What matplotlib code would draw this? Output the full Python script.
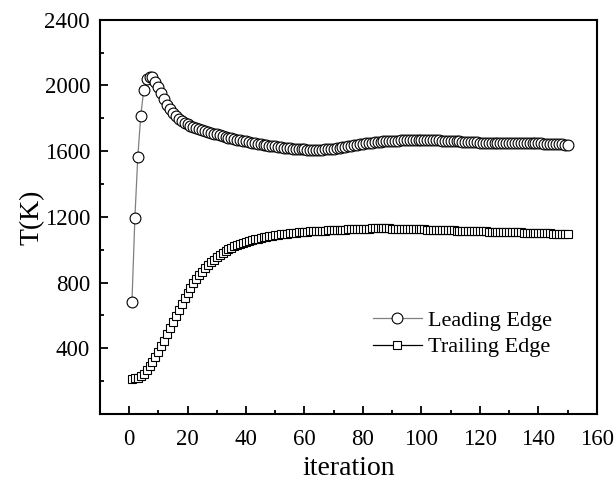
import matplotlib
matplotlib.use("Agg")
import matplotlib.pyplot as plt
from matplotlib.ticker import MultipleLocator, FixedLocator

plt.rcParams["font.family"] = ["Liberation Serif", "DejaVu Serif"]
plt.rcParams["mathtext.fontset"] = "stix"

iterations = list(range(1, 151))

leading_edge = [
    682, 1194, 1566, 1813, 1970, 2037, 2054, 2050, 2024, 1990,
    1954, 1915, 1884, 1855, 1833, 1814, 1798, 1784, 1773, 1763,
    1755, 1748, 1741, 1735, 1729, 1723, 1717, 1712, 1707, 1702,
    1697, 1692, 1687, 1683, 1678, 1674, 1670, 1666, 1662, 1659,
    1655, 1652, 1649, 1646, 1643, 1640, 1637, 1634, 1631, 1629,
    1626, 1624, 1622, 1620, 1618, 1616, 1614, 1613, 1612, 1611,
    1610, 1609, 1609, 1609, 1609, 1610, 1611, 1612, 1614, 1616,
    1618, 1620, 1623, 1626, 1629, 1632, 1635, 1638, 1641, 1644,
    1647, 1649, 1651, 1653, 1655, 1657, 1659, 1660, 1662, 1663,
    1664, 1665, 1666, 1667, 1668, 1668, 1669, 1669, 1669, 1669,
    1669, 1669, 1668, 1668, 1667, 1666, 1665, 1664, 1663, 1662,
    1661, 1660, 1659, 1658, 1657, 1656, 1655, 1654, 1653, 1652,
    1651, 1651, 1650, 1650, 1650, 1649, 1649, 1649, 1649, 1649,
    1649, 1649, 1649, 1649, 1649, 1649, 1648, 1648, 1648, 1647,
    1647, 1646, 1646, 1645, 1644, 1643, 1642, 1641, 1640, 1639,
]

trailing_edge = [
    215, 216, 220, 230, 245, 265, 290, 316, 345, 377,
    411, 447, 484, 522, 560, 598, 634, 670, 704, 737,
    767, 795, 821, 845, 867, 888, 907, 924, 940, 955,
    968, 980, 992, 1002, 1012, 1021, 1029, 1036, 1043, 1049,
    1054, 1059, 1064, 1068, 1072, 1076, 1079, 1082, 1085, 1088,
    1090, 1093, 1095, 1097, 1099, 1101, 1103, 1105, 1106, 1108,
    1109, 1111, 1112, 1113, 1114, 1115, 1116, 1117, 1118, 1119,
    1120, 1121, 1122, 1123, 1124, 1125, 1126, 1127, 1128, 1128,
    1129, 1129, 1130, 1130, 1130, 1130, 1130, 1130, 1130, 1129,
    1129, 1129, 1128, 1128, 1127, 1127, 1126, 1126, 1125, 1124,
    1124, 1123, 1122, 1122, 1121, 1120, 1120, 1119, 1118, 1118,
    1117, 1116, 1116, 1115, 1115, 1114, 1113, 1113, 1112, 1112,
    1111, 1111, 1110, 1110, 1109, 1109, 1108, 1108, 1107, 1107,
    1106, 1106, 1105, 1105, 1104, 1104, 1103, 1103, 1102, 1102,
    1101, 1100, 1100, 1099, 1098, 1097, 1096, 1095, 1094, 1093,
]

x_ticks = [0, 20, 40, 60, 80, 100, 120, 140, 160]
y_ticks = [400, 800, 1200, 1600, 2000, 2400]

fig = plt.figure(figsize=(6.16, 4.83), dpi=100)
ax = fig.add_axes([0.162, 0.143, 0.807, 0.816])

ax.plot(iterations, leading_edge, color="#808080", lw=0.9,
        marker="o", ms=7.8, mfc="white", mec="black", mew=0.8,
        label="Leading Edge")
ax.plot(iterations, trailing_edge, color="black", lw=0.9,
        marker="s", ms=5.6, mfc="white", mec="black", mew=0.8,
        label="Trailing Edge")

ax.set_xlim(-10, 160)
ax.set_ylim(0, 2400)
ax.xaxis.set_major_locator(FixedLocator(x_ticks))
ax.xaxis.set_minor_locator(MultipleLocator(10))
ax.yaxis.set_major_locator(FixedLocator(y_ticks))
ax.yaxis.set_minor_locator(MultipleLocator(200))

ax.tick_params(which="both", direction="in", top=False, right=False,
               labelsize=16.5, width=1.3)
ax.tick_params(axis="x", which="major", pad=11)
ax.tick_params(axis="y", which="major", pad=7)
ax.tick_params(which="major", length=6)
ax.tick_params(which="minor", length=3)
for s in ax.spines.values():
    s.set_linewidth(1.5)

ax.set_xlabel("iteration", fontsize=20, labelpad=4)
ax.set_ylabel("T(K)", fontsize=20, labelpad=0)

ax.legend(loc="upper left", bbox_to_anchor=(0.549, 0.262), frameon=False,
          fontsize=16, handlelength=2.2, handletextpad=0.3,
          labelspacing=0.25, borderpad=0, borderaxespad=0)

fig.savefig("out.png", dpi=100)
